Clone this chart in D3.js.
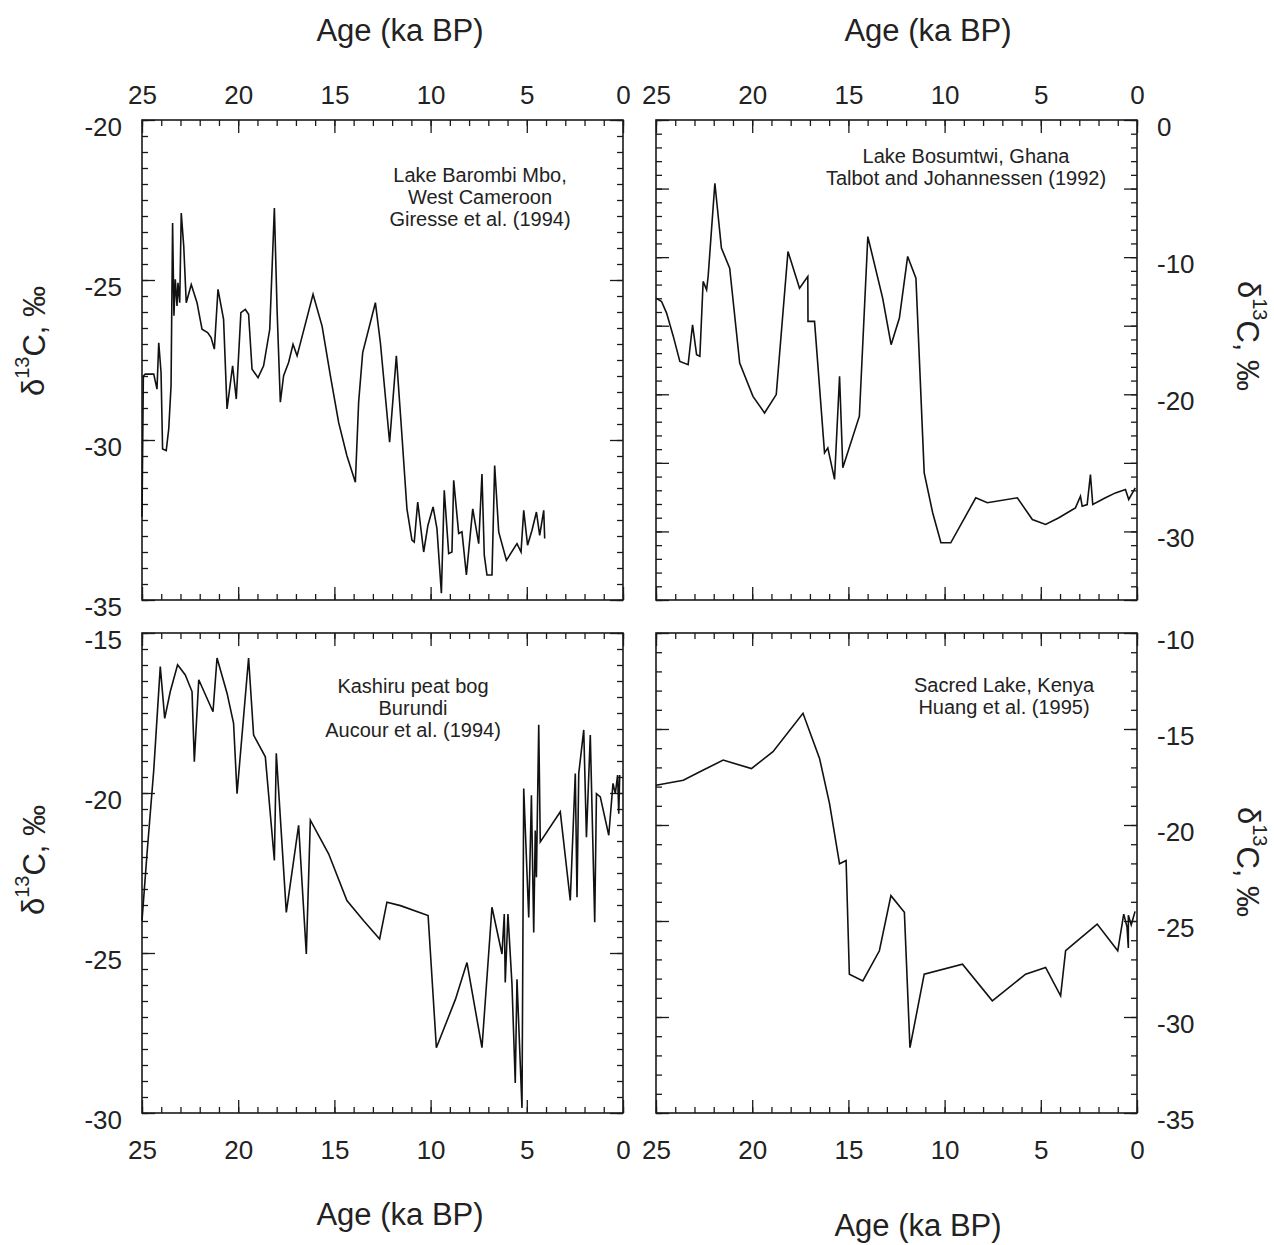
<!DOCTYPE html>
<html><head><meta charset="utf-8">
<script src="https://cdn.jsdelivr.net/npm/d3@7"></script>
<style>
body{margin:0;background:#fff}
text{font-family:"Liberation Sans",Arial,sans-serif;fill:#222}
</style>
</head><body>
<svg id="c" width="1274" height="1245"></svg>
<script>
// ---- data ----
const ageTicks = [25, 20, 15, 10, 5, 0];
const yLabelsBarombi = [-20, -25, -30, -35];
const yLabelsBosumtwi = [0, -10, -20, -30];
const yLabelsKashiru = [-15, -20, -25, -30];
const yLabelsSacred = [-10, -15, -20, -25, -30, -35];

const barombiAge = [25.0,24.93,24.83,24.39,24.22,24.13,24.01,23.93,23.74,23.61,23.49,23.41,23.34,23.27,23.18,23.13,23.04,22.96,22.83,22.70,22.44,22.14,21.88,21.59,21.41,21.24,21.05,20.76,20.58,20.29,20.10,19.86,19.63,19.46,19.28,18.97,18.68,18.36,18.12,17.98,17.81,17.64,17.38,17.15,16.94,16.11,15.64,15.21,14.78,14.35,13.91,13.74,13.53,12.87,12.61,12.13,11.78,11.49,11.23,10.97,10.85,10.67,10.36,10.14,9.87,9.67,9.44,9.29,9.06,8.89,8.80,8.54,8.37,8.14,7.81,7.50,7.33,7.21,7.07,6.81,6.67,6.46,6.06,5.51,5.30,5.16,4.96,4.73,4.50,4.33,4.12,4.07];
const barombiD13C = [-32.4,-28.0,-27.94,-27.94,-28.41,-26.96,-27.89,-30.28,-30.33,-29.65,-28.30,-23.22,-26.12,-24.98,-25.81,-25.09,-25.71,-22.91,-23.95,-25.71,-25.14,-25.71,-26.54,-26.64,-26.80,-27.16,-25.29,-26.23,-29.03,-27.68,-28.72,-26.02,-25.92,-26.07,-27.79,-28.05,-27.68,-26.54,-22.75,-25.92,-28.82,-27.99,-27.58,-27.01,-27.37,-25.45,-26.44,-27.99,-29.45,-30.49,-31.32,-28.82,-27.27,-25.71,-26.96,-30.07,-27.37,-29.86,-32.15,-33.13,-33.19,-31.94,-33.50,-32.67,-32.09,-32.77,-34.79,-31.57,-33.55,-33.50,-31.26,-32.92,-32.87,-34.22,-32.15,-33.24,-31.06,-33.60,-34.22,-34.22,-30.80,-32.87,-33.76,-33.24,-33.50,-32.20,-33.29,-32.82,-32.25,-32.98,-32.20,-33.08];

const bosumtwiAge = [25.0,24.71,24.45,24.10,23.76,23.33,23.10,22.89,22.72,22.55,22.37,22.29,21.94,21.60,21.17,20.65,19.96,19.36,18.75,18.14,17.54,17.11,17.10,16.76,16.24,16.07,15.72,15.46,15.29,14.43,13.99,13.22,12.78,12.35,11.92,11.49,11.06,10.62,10.19,9.68,8.38,7.78,6.22,5.44,4.75,4.06,3.20,2.94,2.85,2.59,2.42,2.30,1.64,1.12,0.60,0.43,0.09];
const bosumtwiD13C = [-12.99,-13.23,-14.08,-15.78,-17.60,-17.84,-14.93,-17.11,-17.23,-11.77,-12.38,-11.41,-4.61,-9.34,-10.80,-17.72,-20.15,-21.36,-20.02,-9.59,-12.26,-11.41,-14.68,-14.68,-24.27,-23.91,-26.21,-18.69,-25.36,-21.60,-8.50,-12.99,-16.38,-14.44,-9.95,-11.53,-25.73,-28.64,-30.83,-30.83,-27.55,-27.91,-27.55,-29.13,-29.49,-29.00,-28.28,-27.43,-28.16,-28.04,-25.85,-28.04,-27.55,-27.19,-26.94,-27.67,-26.82];

const kashiruAge = [25.0,24.74,24.39,24.05,23.82,23.53,23.15,22.75,22.40,22.28,22.05,21.31,21.10,20.58,20.24,20.06,19.46,19.20,18.59,18.12,18.02,17.50,16.86,16.46,16.25,15.30,14.35,13.48,12.65,12.27,11.57,10.13,9.70,8.71,8.11,7.33,6.81,6.29,6.17,6.12,5.98,5.77,5.60,5.51,5.25,5.16,4.90,4.76,4.64,4.56,4.50,4.38,4.30,3.26,2.74,2.48,2.39,2.30,2.04,1.90,1.70,1.47,1.38,1.18,0.74,0.52,0.40,0.28,0.22,0.17];
const kashiruD13C = [-23.99,-21.90,-19.29,-16.05,-17.67,-16.83,-15.99,-16.31,-16.83,-19.02,-16.46,-17.46,-15.78,-16.88,-17.82,-20.02,-15.78,-18.19,-18.87,-22.11,-18.76,-23.73,-21.01,-25.03,-20.85,-21.90,-23.36,-23.99,-24.56,-23.41,-23.52,-23.83,-27.96,-26.45,-25.30,-27.96,-23.57,-25.03,-23.78,-25.92,-23.78,-25.98,-29.06,-25.82,-29.84,-19.86,-23.89,-20.07,-24.36,-21.17,-22.63,-17.87,-21.53,-20.59,-23.36,-19.39,-23.26,-19.39,-18.03,-21.38,-18.19,-24.04,-20.02,-20.12,-21.32,-19.70,-20.02,-19.44,-20.65,-19.44];

const sacredAge = [25.0,23.58,22.72,21.51,20.04,18.92,17.36,16.50,15.98,15.46,15.12,14.95,14.25,13.39,12.79,12.09,11.80,11.06,9.07,7.52,5.79,4.75,3.97,3.71,3.20,2.07,1.00,0.69,0.52,0.45,0.45,0.30,0.10];
const sacredD13C = [-17.93,-17.67,-17.23,-16.62,-17.06,-16.18,-14.18,-16.53,-18.89,-22.02,-21.85,-27.77,-28.12,-26.55,-23.68,-24.55,-31.60,-27.77,-27.25,-29.16,-27.77,-27.42,-28.90,-26.55,-26.11,-25.16,-26.55,-24.64,-25.30,-26.40,-24.70,-25.20,-24.50];

const captionBarombi = ["Lake Barombi Mbo,", "West Cameroon", "Giresse et al. (1994)"];
const captionBosumtwi = ["Lake Bosumtwi, Ghana", "Talbot and Johannessen (1992)"];
const captionKashiru = ["Kashiru peat bog", "Burundi", "Aucour et al. (1994)"];
const captionSacred = ["Sacred Lake, Kenya", "Huang et al. (1995)"];
const axisTitleX = "Age (ka BP)";

// ---- layout ----
const svg = d3.select("#c");
const W = 481, H = 480;
const MINOR = 6, MAJOR = 13;
const INK = "#1a1a1a";
const x = d3.scaleLinear().domain([25, 0]).range([0, W]);
const fmt = d => String(d);   // plain hyphen-minus as in the original

const panels = [
  {left:142, top:120, age:barombiAge, val:barombiD13C, yDom:[-35,-20], yMinor:0.5, yLabels:yLabelsBarombi, xSide:"top", ySide:"left", cap:captionBarombi, capX:480, capY:182},
  {left:656, top:120, age:bosumtwiAge, val:bosumtwiD13C, yDom:[-35,0], yMinor:1, yLabels:yLabelsBosumtwi, xSide:"top", ySide:"right", cap:captionBosumtwi, capX:966, capY:163},
  {left:142, top:633, age:kashiruAge, val:kashiruD13C, yDom:[-30,-15], yMinor:0.5, yLabels:yLabelsKashiru, xSide:"bottom", ySide:"left", cap:captionKashiru, capX:413, capY:693},
  {left:656, top:633, age:sacredAge, val:sacredD13C, yDom:[-35,-10], yMinor:1, yLabels:yLabelsSacred, xSide:"bottom", ySide:"right", cap:captionSacred, capX:1004, capY:692}
];

function clean(sel){
  sel.select(".domain").remove();
  sel.selectAll(".tick line").attr("stroke", INK).attr("stroke-width", 1.3);
}
function styleText(sel, size){
  sel.attr("font-family", null).attr("font-size", null);
  sel.selectAll("text").attr("font-size", size).attr("fill", "#222")
     .attr("font-family", '"Liberation Sans", Arial, sans-serif');
}

panels.forEach(p => {
  const g = svg.append("g").attr("transform", `translate(${p.left},${p.top})`);
  const y = d3.scaleLinear().domain(p.yDom).range([H, 0]);
  const minorX = d3.range(0, 25.001, 1), majorX = d3.range(0, 25.001, 5);
  const minorY = d3.range(p.yDom[0], p.yDom[1] + 1e-6, p.yMinor);
  const majorY = d3.range(p.yDom[0], p.yDom[1] + 1e-6, 5);

  [[minorX, MINOR], [majorX, MAJOR]].forEach(([v, l]) => {
    g.append("g").call(d3.axisTop(x).tickValues(v).tickSize(-l).tickFormat("")).call(clean);
    g.append("g").attr("transform", `translate(0,${H})`)
      .call(d3.axisBottom(x).tickValues(v).tickSize(-l).tickFormat("")).call(clean);
  });
  [[minorY, MINOR], [majorY, MAJOR]].forEach(([v, l]) => {
    g.append("g").call(d3.axisLeft(y).tickValues(v).tickSize(-l).tickFormat("")).call(clean);
    g.append("g").attr("transform", `translate(${W},0)`)
      .call(d3.axisRight(y).tickValues(v).tickSize(-l).tickFormat("")).call(clean);
  });

  // frame
  g.append("rect").attr("width", W).attr("height", H)
    .attr("fill", "none").attr("stroke", INK).attr("stroke-width", 1.6);

  // data line
  const line = d3.line().x(d => x(d[0])).y(d => y(d[1]));
  g.append("path").datum(d3.zip(p.age, p.val))
    .attr("d", line).attr("fill", "none").attr("stroke", "#111")
    .attr("stroke-width", 1.6).attr("stroke-linejoin", "miter");

  // x labels
  if (p.xSide === "top") {
    g.append("g").call(d3.axisTop(x).tickValues(ageTicks).tickSize(0).tickPadding(16).tickFormat(fmt))
      .call(s => s.select(".domain").remove()).call(s => styleText(s, 26));
  } else {
    g.append("g").attr("transform", `translate(0,${H})`)
      .call(d3.axisBottom(x).tickValues(ageTicks).tickSize(0).tickPadding(28).tickFormat(fmt))
      .call(s => s.select(".domain").remove()).call(s => styleText(s, 26));
  }
  // y labels
  if (p.ySide === "left") {
    g.append("g").call(d3.axisLeft(y).tickValues(p.yLabels).tickSize(0).tickPadding(20).tickFormat(fmt))
      .call(s => s.select(".domain").remove()).call(s => styleText(s, 26))
      .selectAll("text").attr("dy", "0.58em");
  } else {
    g.append("g").attr("transform", `translate(${W},0)`)
      .call(d3.axisRight(y).tickValues(p.yLabels).tickSize(0).tickPadding(20).tickFormat(fmt))
      .call(s => s.select(".domain").remove()).call(s => styleText(s, 26))
      .selectAll("text").attr("dy", "0.58em");
  }

  // caption
  const t = svg.append("text").attr("text-anchor", "middle").attr("font-size", 20).attr("fill", "#333");
  p.cap.forEach((c, i) => t.append("tspan").attr("x", p.capX).attr("y", p.capY + i * 22).text(c));
});

// axis titles
[[400, 41], [928, 41], [400, 1225], [918, 1236]].forEach(([cx, cy]) => {
  svg.append("text").attr("x", cx).attr("y", cy).attr("text-anchor", "middle")
    .attr("font-size", 31).text(axisTitleX);
});

function yTitle(cx, cy, rot) {
  const t = svg.append("text").attr("transform", `translate(${cx},${cy}) rotate(${rot})`)
    .attr("text-anchor", "middle").attr("dominant-baseline", "central").attr("font-size", 31);
  t.append("tspan").text("δ");
  t.append("tspan").attr("font-size", 20).attr("dy", "-0.55em").text("13");
  t.append("tspan").attr("dy", "0.38em").text("C, ‰");
}
yTitle(33, 341, -90);
yTitle(33, 860, -90);
yTitle(1249, 336, 90);
yTitle(1249, 862, 90);
</script>
</body></html>
